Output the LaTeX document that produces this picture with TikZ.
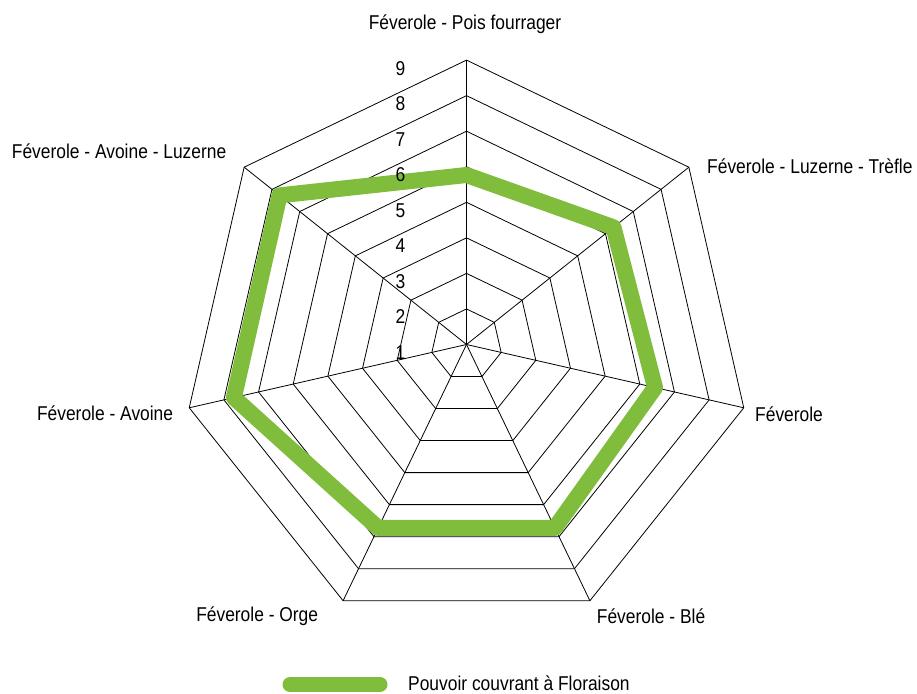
\documentclass[tikz,border=0pt]{standalone}
\usepackage{fontspec}
\setmainfont{Liberation Sans}[FakeStretch=0.87]
\usetikzlibrary{calc}
\definecolor{radargreen}{RGB}{128,189,60}
\begin{document}
\begin{tikzpicture}[x=1pt,y=-1pt,
  grid/.style={black, line width=0.8pt},
  dataline/.style={radargreen, line width=16pt, line join=round},
  legline/.style={radargreen, line width=15pt, line cap=round},
  lbl/.style={inner sep=0pt, font=\fontsize{20}{24}\selectfont}]
\useasboundingbox (0,0) rectangle (917,693);
\coordinate (C) at (466.5,344.5);
\foreach \i in {0,...,6}{
  \coordinate (V\i) at ($(C)+({90-\i*360/7}:284.4pt)$);
}
% rings
\foreach \k in {1,...,8}{
  \draw[grid] ($(C)!\k/8!(V0)$) \foreach \i in {1,...,6}{ -- ($(C)!\k/8!(V\i)$) } -- cycle;
}
% spokes
\foreach \i in {0,...,6}{
  \draw[grid] (C) -- (V\i);
}
% data
\draw[dataline] ($(C)!0.596!(V0)$) coordinate (D0)
  -- ($(C)!0.661!(V1)$) coordinate (D1)
  -- ($(C)!0.680!(V2)$) coordinate (D2)
  -- ($(C)!0.716!(V3)$) coordinate (D3)
  -- ($(C)!0.716!(V4)$) coordinate (D4)
  -- ($(C)!0.839!(V5)$) coordinate (D5)
  -- ($(C)!0.841!(V6)$) coordinate (D6)
  -- cycle;
% scale numbers
\foreach \k in {1,...,9}{
  \node[lbl, anchor=base] (n\k) at (400.5,{75+(9-\k)*35.55}) {\k};
}
% axis labels
\node[lbl, anchor=base] (t0) at (465,29.5) {Féverole - Pois fourrager};
\node[lbl, anchor=base west] (t1) at (707,173.3) {Féverole - Luzerne - Trèfle};
\node[lbl, anchor=base west] (t2) at (755,421.7) {Féverole};
\node[lbl, anchor=base west] (t3) at (596.7,623.3) {Féverole - Blé};
\node[lbl, anchor=base east] (t4) at (318.3,621.7) {Féverole - Orge};
\node[lbl, anchor=base east] (t5) at (173.3,420) {Féverole - Avoine};
\node[lbl, anchor=base west] (t6) at (11.7,158.3) {Féverole - Avoine - Luzerne};
% legend
\coordinate (legA) at (290,684.5);
\coordinate (legB) at (380,684.5);
\draw[legline] (legA) -- (legB);
\node[lbl, anchor=base west] (legT) at (408,690.6) {Pouvoir couvrant à Floraison};
\end{tikzpicture}
\end{document}
